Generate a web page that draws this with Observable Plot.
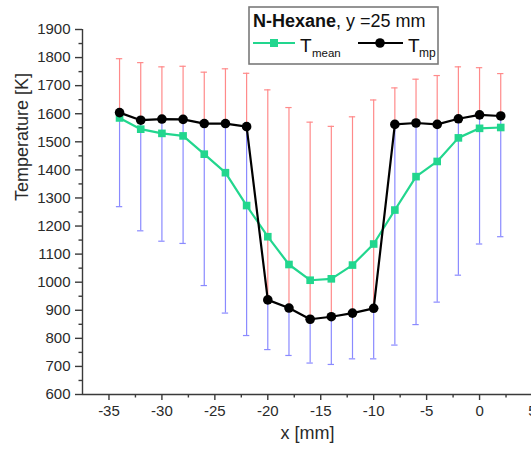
<!DOCTYPE html>
<html>
<head>
<meta charset="utf-8">
<script src="https://cdn.jsdelivr.net/npm/d3@7"></script>
<script src="https://cdn.jsdelivr.net/npm/@observablehq/plot@0.6"></script>
<style>
  html, body { margin: 0; padding: 0; background: #fff; overflow: hidden; }
  #wrap { position: relative; width: 531px; height: 453px; }
  #legend { position: absolute; left: 0; top: 0; pointer-events: none; }
  text { font-family: "Liberation Sans", Arial, sans-serif; }
</style>
</head>
<body>
<div id="wrap"></div>
<script>
// x positions [mm]
const xPos = [-34, -32, -30, -28, -26, -24, -22, -20, -18, -16, -14, -12, -10, -8, -6, -4, -2, 0, 2];
// mean temperature [K]
const tMean = [1585, 1545, 1530, 1521, 1456, 1390, 1273, 1162, 1063, 1007, 1012, 1061, 1136, 1257, 1376, 1430, 1514, 1548, 1551];
// most probable temperature [K]
const tMp = [1604, 1577, 1581, 1580, 1565, 1565, 1554, 937, 908, 868, 877, 890, 907, 1562, 1567, 1562, 1582, 1596, 1592];
// upper error bar end [K]
const tUpper = [1796, 1782, 1767, 1769, 1748, 1760, 1744, 1685, 1622, 1570, 1555, 1589, 1649, 1692, 1723, 1736, 1767, 1764, 1743];
// lower error bar end [K]
const tLower = [1269, 1183, 1146, 1138, 988, 890, 810, 760, 739, 712, 707, 727, 727, 776, 849, 929, 1025, 1136, 1162];

const xDomain = [-37.5, 5];
const yDomain = [600, 1900];
const xMajor = [-35, -30, -25, -20, -15, -10, -5, 0, 5];
const xMinor = [-32.5, -27.5, -22.5, -17.5, -12.5, -7.5, -2.5, 2.5];
const yMajor = [600, 700, 800, 900, 1000, 1100, 1200, 1300, 1400, 1500, 1600, 1700, 1800, 1900];
const yMinor = [650, 750, 850, 950, 1050, 1150, 1250, 1350, 1450, 1550, 1650, 1750, 1850];
const xLabel = "x [mm]";
const yLabel = "Temperature [K]";

const green = "#22d68e";
const red = "#ff8a8a";
const blue = "#8a8aff";
const axisColor = "#3a3a3a";
const textColor = "#2a2a2a";

const data = xPos.map((x, i) => ({x, mean: tMean[i], mp: tMp[i], hi: tUpper[i], lo: tLower[i]}));
const capHalf = 0.3;
const plain = d => String(d);

const chart = Plot.plot({
  width: 531,
  height: 453,
  marginLeft: 82,
  marginRight: -1,
  marginTop: 29,
  marginBottom: 59,
  style: {fontFamily: "Liberation Sans, Arial, sans-serif", fontSize: "15px", color: textColor, background: "white", overflow: "visible"},
  x: {domain: xDomain},
  y: {domain: yDomain},
  marks: [
    // error bars
    Plot.ruleX(data, {x: "x", y1: "mp", y2: "hi", stroke: red, strokeWidth: 1.2}),
    Plot.ruleX(data, {x: "x", y1: "lo", y2: "mp", stroke: blue, strokeWidth: 1.2}),
    Plot.ruleY(data, {y: "hi", x1: d => d.x - capHalf, x2: d => d.x + capHalf, stroke: red, strokeWidth: 1.2}),
    Plot.ruleY(data, {y: "lo", x1: d => d.x - capHalf, x2: d => d.x + capHalf, stroke: blue, strokeWidth: 1.2}),
    // T mean
    Plot.line(data, {x: "x", y: "mean", stroke: green, strokeWidth: 2.2}),
    Plot.dot(data, {x: "x", y: "mean", symbol: "square", fill: green, r: 4.3}),
    // T mp
    Plot.line(data, {x: "x", y: "mp", stroke: "black", strokeWidth: 2.2}),
    Plot.dot(data, {x: "x", y: "mp", fill: "black", r: 4.8}),
    // axes
    Plot.ruleX([xDomain[0]], {stroke: axisColor, strokeWidth: 1.4}),
    Plot.ruleY([yDomain[0]], {stroke: axisColor, strokeWidth: 1.4}),
    Plot.axisY({ticks: yMajor, tickFormat: plain, tickSize: 7, tickPadding: 5, fontSize: 15, stroke: axisColor, strokeWidth: 1.4, fill: textColor, label: null}),
    Plot.axisY({ticks: yMinor, tickSize: 3.5, tickFormat: () => "", stroke: axisColor, strokeWidth: 1.4, label: null}),
    Plot.axisX({ticks: xMajor, tickFormat: plain, tickSize: 6, tickPadding: 5, fontSize: 15, stroke: axisColor, strokeWidth: 1.4, fill: textColor, label: null}),
    Plot.axisX({ticks: xMinor, tickSize: 3.5, tickFormat: () => "", stroke: axisColor, strokeWidth: 1.4, label: null}),
    Plot.text([yLabel], {text: d => d, frameAnchor: "left", rotate: -90, dx: -60, dy: -11, fontSize: 18, fill: textColor}),
    Plot.text([xLabel], {text: d => d, frameAnchor: "bottom", dy: 44, fontSize: 18, fill: textColor})
  ]
});

const wrap = document.getElementById("wrap");
wrap.appendChild(chart);

// legend box overlay
const ns = "http://www.w3.org/2000/svg";
const lg = document.createElementNS(ns, "svg");
lg.setAttribute("id", "legend");
lg.setAttribute("width", 531);
lg.setAttribute("height", 80);
lg.innerHTML = `
  <rect x="249" y="7" width="189" height="57" fill="white" stroke="#7a7a7a" stroke-width="1.6"/>
  <text x="253" y="27" font-size="18" fill="#111"><tspan font-weight="bold">N-Hexane</tspan>, y =25 mm</text>
  <line x1="253" x2="295" y1="43" y2="43" stroke="${green}" stroke-width="2.2"/>
  <rect x="270" y="39" width="8" height="8" fill="${green}"/>
  <text x="300" y="51.5" font-size="19" fill="#111">T</text>
  <text x="312" y="57" font-size="11.5" fill="#111">mean</text>
  <line x1="358" x2="403" y1="43" y2="43" stroke="black" stroke-width="2.2"/>
  <circle cx="380" cy="43" r="4.8" fill="black"/>
  <text x="408" y="51.5" font-size="19" fill="#111">T</text>
  <text x="419" y="57" font-size="12" fill="#111">mp</text>
`;
wrap.appendChild(lg);
</script>
</body>
</html>
